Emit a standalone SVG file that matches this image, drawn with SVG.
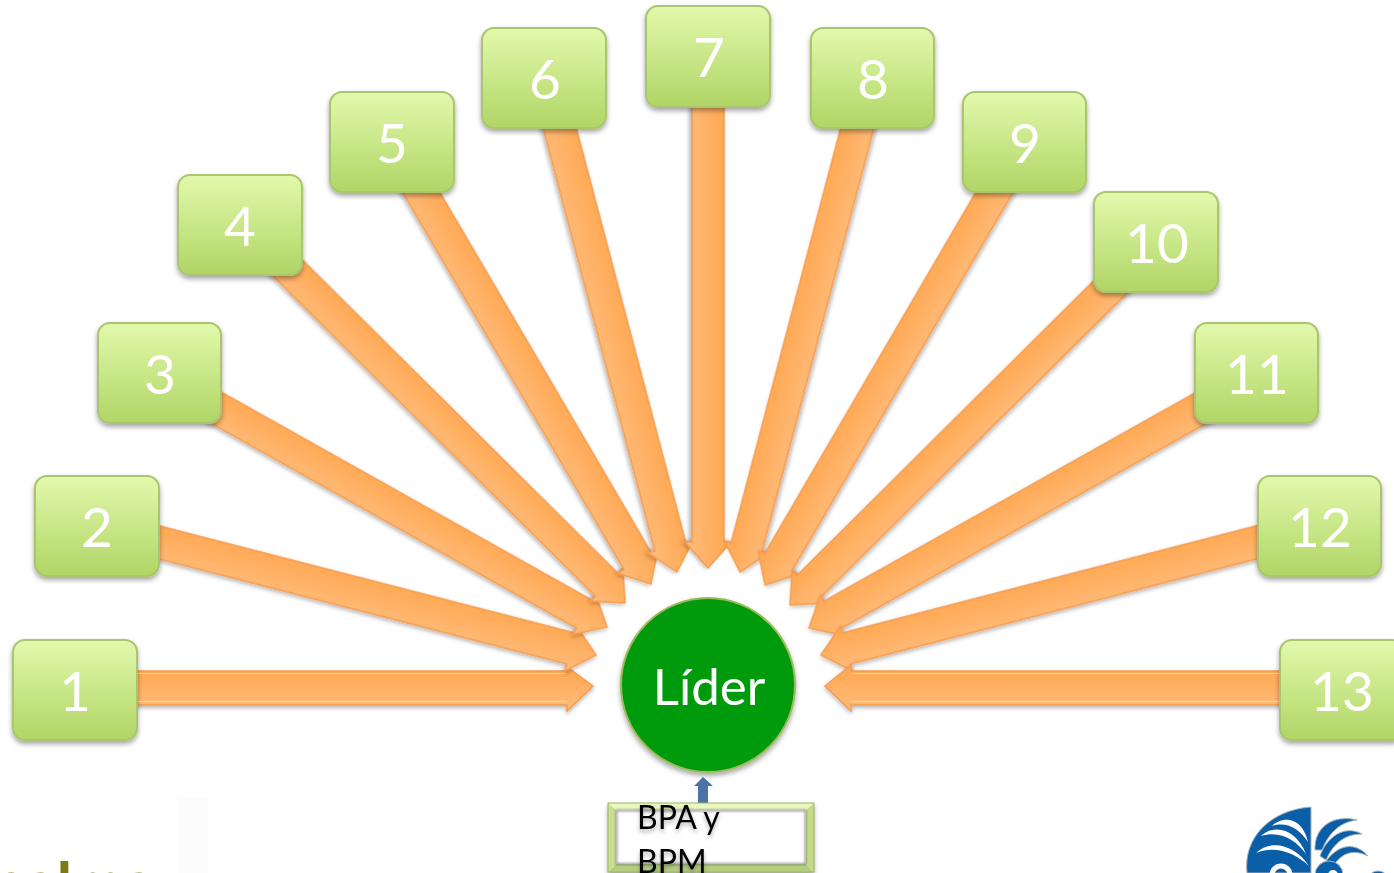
<svg xmlns="http://www.w3.org/2000/svg" width="1394" height="873" viewBox="0 0 1394 873">
<style>
.node{fill:url(#g);stroke:#A9C56E;stroke-width:2;filter:url(#s)}
.num{font-family:Lato,"Liberation Sans",sans-serif;font-size:55px;fill:#fff;text-anchor:middle}
.arr{fill:url(#o);stroke:#F79B4E;stroke-width:1.5;filter:url(#s2)}
.hi{stroke:#FFEBD6;stroke-width:1;fill:none;opacity:.7}
.lb{font-family:Lato,"Liberation Sans",sans-serif;font-size:32px;fill:#000;filter:url(#s3)}
.blue{fill:#0B5FA8;stroke:#A3B2BE;stroke-width:1}
.wh{fill:#fff}
</style>
<defs>
<linearGradient id="g" x1="0" y1="0" x2="0" y2="1"><stop offset="0" stop-color="#E2F9AC"/><stop offset="1" stop-color="#B0D565"/></linearGradient>
<linearGradient id="o" x1="0" y1="0" x2="0" y2="1"><stop offset="0" stop-color="#FFA64F"/><stop offset="1" stop-color="#FFBC7A"/></linearGradient>
<filter id="s" x="-15%" y="-15%" width="130%" height="135%"><feDropShadow dx="0" dy="3" stdDeviation="2.5" flood-color="#000" flood-opacity=".35"/></filter>
<filter id="s2" x="-10%" y="-20%" width="120%" height="140%"><feDropShadow dx="0" dy="2" stdDeviation="2" flood-color="#000" flood-opacity=".3"/></filter>
<filter id="s3" x="-15%" y="-15%" width="130%" height="140%"><feDropShadow dx="0" dy="3" stdDeviation="2" flood-color="#000" flood-opacity=".3"/></filter>
<filter id="b"><feGaussianBlur stdDeviation="1.2"/></filter>
</defs>
<g id="connectors">
<polygon class="arr" points="123,671 567,671 567,667 593,686 567,711 567,705 123,705"/>
<path class="hi" d="M137 673.5H566M137 701.5H566"/>
<polygon class="arr" transform="translate(596 655) rotate(14.45)" points="-470,-16 -26,-16 -26,-23 0,0 -26,23 -26,16 -470,16"/>
<polygon class="arr" transform="translate(607 627) rotate(29.3)" points="-470,-16 -26,-16 -26,-23 0,0 -26,23 -26,16 -470,16"/>
<polygon class="arr" transform="translate(625 603) rotate(44.8)" points="-490,-16 -26,-16 -26,-23 0,0 -26,23 -26,16 -490,16"/>
<polygon class="arr" transform="translate(651 584) rotate(59.6)" points="-480,-16 -26,-16 -26,-23 0,0 -26,23 -26,16 -480,16"/>
<polygon class="arr" transform="translate(677 572) rotate(75.2)" points="-480,-16 -26,-16 -26,-23 0,0 -26,23 -26,16 -480,16"/>
<polygon class="arr" transform="translate(708 568) rotate(90)" points="-480,-16 -26,-16 -26,-23 0,0 -26,23 -26,16 -480,16"/>
<polygon class="arr" transform="translate(740 572) rotate(104.8) scale(1 -1)" points="-480,-16 -26,-16 -26,-23 0,0 -26,23 -26,16 -480,16"/>
<polygon class="arr" transform="translate(765 585) rotate(120.3) scale(1 -1)" points="-480,-16 -26,-16 -26,-23 0,0 -26,23 -26,16 -480,16"/>
<polygon class="arr" transform="translate(790 605) rotate(135.2) scale(1 -1)" points="-480,-16 -26,-16 -26,-23 0,0 -26,23 -26,16 -480,16"/>
<polygon class="arr" transform="translate(809 628) rotate(150.7) scale(1 -1)" points="-470,-16 -26,-16 -26,-23 0,0 -26,23 -26,16 -470,16"/>
<polygon class="arr" transform="translate(821 655) rotate(165.5) scale(1 -1)" points="-470,-16 -26,-16 -26,-23 0,0 -26,23 -26,16 -470,16"/>
<polygon class="arr" points="1295,671 851,671 851,665 825,686 851,711 851,705 1295,705"/>
<path class="hi" d="M1280 673.5H852M1280 701.5H852"/>
<polygon fill="#4A74A5" points="698,805 698,786 694,786 703,777 713,786 708,786 708,805"/>
</g>
<g id="n1"><rect class="node" x="13" y="640" width="124" height="100" rx="12"/><text class="num" x="75" y="711">1</text></g>
<g id="n2"><rect class="node" x="35" y="476" width="124" height="100" rx="12"/><text class="num" x="97" y="547">2</text></g>
<g id="n3"><rect class="node" x="98" y="323" width="123" height="100" rx="12"/><text class="num" x="160" y="394">3</text></g>
<g id="n4"><rect class="node" x="178" y="175" width="124" height="100" rx="12"/><text class="num" x="240" y="246">4</text></g>
<g id="n5"><rect class="node" x="330" y="92" width="124" height="100" rx="12"/><text class="num" x="392" y="163">5</text></g>
<g id="n6"><rect class="node" x="482" y="28" width="124" height="100" rx="12"/><text class="num" x="545" y="99">6</text></g>
<g id="n7"><rect class="node" x="646" y="6" width="124" height="101" rx="12"/><text class="num" x="709" y="77">7</text></g>
<g id="n8"><rect class="node" x="811" y="28" width="123" height="100" rx="12"/><text class="num" x="873" y="99">8</text></g>
<g id="n9"><rect class="node" x="963" y="92" width="123" height="100" rx="12"/><text class="num" x="1025" y="163">9</text></g>
<g id="n10"><rect class="node" x="1094" y="192" width="124" height="100" rx="12"/><text class="num" x="1157" y="263">10</text></g>
<g id="n11"><rect class="node" x="1195" y="323" width="123" height="100" rx="12"/><text class="num" x="1257" y="394">11</text></g>
<g id="n12"><rect class="node" x="1258" y="476" width="123" height="100" rx="12"/><text class="num" x="1320" y="547">12</text></g>
<g id="n13"><rect class="node" x="1280" y="640" width="124" height="100" rx="12"/><text class="num" x="1342" y="711">13</text></g>
<g id="lider"><circle cx="708" cy="685" r="87" fill="#009A0E" stroke="#9BBB59" stroke-width="2" filter="url(#s)"/><text x="709" y="705" font-family="Lato,'Liberation Sans',sans-serif" font-size="51" fill="#fff" text-anchor="middle">Líder</text></g>
<g id="bpa">
<rect x="608" y="803" width="206" height="69" fill="#fff" filter="url(#s)"/>
<polygon fill="#E9F8BE" points="608,803 814,803 806,810 616,810"/>
<polygon fill="#C9E08F" points="608,803 616,810 616,864 608,872"/>
<polygon fill="#C2DB84" points="814,803 806,810 806,864 814,872"/>
<polygon fill="#B4CF7C" points="608,872 616,864 806,864 814,872"/>
<rect x="616.5" y="810.5" width="189" height="53.5" fill="none" stroke="#777" stroke-width="1.5" filter="url(#b)"/>
<rect x="608" y="803" width="206" height="69" fill="none" stroke="#9CB564" stroke-width="1"/>
<text class="lb" x="637" y="829">BPA y</text>
<text class="lb" x="637" y="873">BPM</text>
</g>
<g id="logo-left">
<rect x="178" y="797" width="30" height="76" fill="#FCFCFC"/>
<text x="-10" y="903" font-family="'Liberation Sans',sans-serif" font-weight="700" font-size="57" fill="#7C7A14">palma</text>
</g>
<g id="logo-right">
<path class="blue" d="M1311 807V873H1247C1243 838 1270 810 1311 807Z"/>
<path class="wh" d="M1272 826C1282 816 1302 816 1308 842C1300 830 1288 821 1272 826Z"/>
<path class="wh" d="M1261 836C1275 823 1297 830 1306 854C1296 840 1280 830 1261 836Z"/>
<path class="wh" d="M1256 853C1272 838 1296 846 1309 866C1295 853 1276 845 1256 853Z"/>
<circle cx="1281" cy="875" r="9" fill="none" stroke="#fff" stroke-width="5"/>
<path class="blue" d="M1315 850C1314 828 1332 814 1357 820C1342 822 1330 830 1322 850Z"/>
<path class="blue" d="M1320 856C1326 838 1344 824 1362 834C1346 834 1334 842 1326 860Z"/>
<path class="blue" d="M1322 868C1332 848 1352 838 1368 856C1352 848 1340 854 1332 868Z"/>
<circle class="blue" cx="1329" cy="875" r="14"/>
<circle cx="1333" cy="875" r="5" fill="#fff"/>
<ellipse class="blue" cx="1378" cy="880" rx="10" ry="9"/>
</g>
</svg>
